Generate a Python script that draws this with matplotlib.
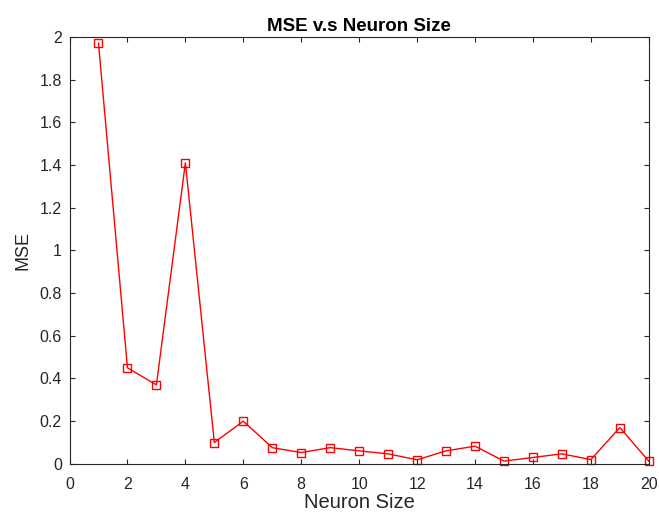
import matplotlib
matplotlib.use("Agg")
import matplotlib.pyplot as plt

neuron_size = list(range(1, 21))
mse = [1.97, 0.45, 0.37, 1.41, 0.10, 0.20, 0.076, 0.053, 0.076, 0.061,
       0.047, 0.019, 0.061, 0.083, 0.013, 0.030, 0.047, 0.020, 0.17, 0.013]
xticks = list(range(0, 21, 2))
yticks = [0, 0.2, 0.4, 0.6, 0.8, 1, 1.2, 1.4, 1.6, 1.8, 2]
ytick_labels = ["0", "0.2", "0.4", "0.6", "0.8", "1", "1.2", "1.4", "1.6", "1.8", "2"]

plt.rcParams['font.family'] = ['Liberation Sans', 'DejaVu Sans']

fig = plt.figure(figsize=(6.59, 5.12), dpi=100)
ax = fig.add_axes([0.1055, 0.094, 0.879, 0.834])
ax.plot(neuron_size, mse, color='red', linewidth=1.0, marker='s',
        markersize=6.0, markerfacecolor='none', markeredgecolor='red',
        markeredgewidth=1.0, clip_on=False)
ax.set_xlim(0, 20)
ax.set_ylim(0, 2)
ax.set_xticks(xticks)
ax.set_yticks(yticks)
ax.set_yticklabels(ytick_labels)
ax.tick_params(direction='in', top=True, right=True, labelsize=11.5,
               colors='#262626', length=3.6, width=0.8)
ax.tick_params(axis='x', pad=9.5)
ax.tick_params(axis='y', pad=5.5)
for s in ax.spines.values():
    s.set_color('#262626')
    s.set_linewidth(0.8)
ax.set_xlabel('Neuron Size', fontsize=14.5, color='#262626', labelpad=0.5)
ax.set_ylabel('MSE', fontsize=13, color='#262626', labelpad=6)
ax.set_title('MSE v.s Neuron Size', fontsize=13.5, fontweight='bold', pad=4.5)
fig.savefig('out.png', dpi=100)
